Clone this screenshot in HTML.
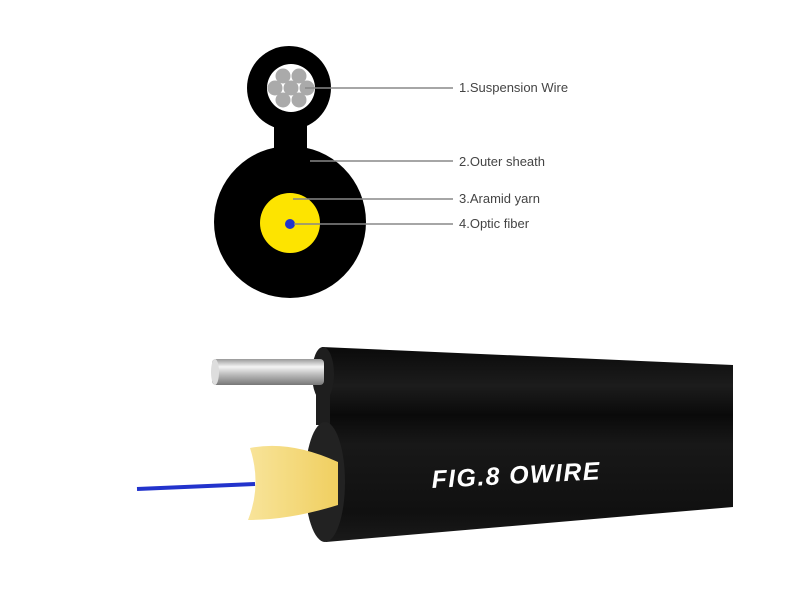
<!DOCTYPE html>
<html><head><meta charset="utf-8"><style>
html,body{margin:0;padding:0;background:#fff;}
svg{display:block;}
</style></head><body>
<svg width="800" height="600" viewBox="0 0 800 600" xmlns="http://www.w3.org/2000/svg">
<defs>
<linearGradient id="cab" x1="0" y1="0" x2="0" y2="1">
<stop offset="0" stop-color="#0a0a0a"/><stop offset="0.2" stop-color="#1c1c1c"/><stop offset="0.35" stop-color="#0a0a0a"/><stop offset="0.5" stop-color="#181818"/><stop offset="0.85" stop-color="#101010"/><stop offset="1" stop-color="#1a1a1a"/>
</linearGradient>
<linearGradient id="wire" x1="0" y1="0" x2="0" y2="1">
<stop offset="0" stop-color="#999"/><stop offset="0.3" stop-color="#f4f4f4"/><stop offset="0.6" stop-color="#bbb"/><stop offset="1" stop-color="#777"/>
</linearGradient>
<linearGradient id="yarn" x1="0" y1="0" x2="1" y2="0">
<stop offset="0" stop-color="#f8e49a"/><stop offset="1" stop-color="#f0cf60"/>
</linearGradient>
</defs>
<!-- cross section -->
<circle cx="289" cy="88" r="42" fill="#000"/>
<rect x="274" y="115" width="33" height="45" fill="#000"/>
<circle cx="290" cy="222" r="76" fill="#000"/>
<circle cx="291" cy="88" r="24" fill="#fff"/>
<g fill="#aaa">
<circle cx="283" cy="76" r="7.5"/><circle cx="299" cy="76" r="7.5"/>
<circle cx="275" cy="88" r="7.5"/><circle cx="291" cy="88" r="7.5"/><circle cx="307" cy="88" r="7.5"/>
<circle cx="283" cy="100" r="7.5"/><circle cx="299" cy="100" r="7.5"/>
</g>
<circle cx="290" cy="223" r="30" fill="#fde400"/>
<circle cx="290" cy="224" r="5" fill="#2233cc"/>
<g stroke="#888" stroke-width="1.5">
<line x1="305" y1="88" x2="453" y2="88"/>
<line x1="310" y1="161" x2="453" y2="161"/>
<line x1="293" y1="199" x2="453" y2="199"/>
<line x1="294" y1="224" x2="453" y2="224"/>
</g>
<g font-family="Liberation Sans, sans-serif" font-size="13" fill="#444">
<text x="459" y="92">1.Suspension Wire</text>
<text x="459" y="166">2.Outer sheath</text>
<text x="459" y="203">3.Aramid yarn</text>
<text x="459" y="228">4.Optic fiber</text>
</g>
<!-- cable -->
<polygon points="322,347 733,365 733,507 326,542 322,420" fill="url(#cab)"/>
<ellipse cx="323" cy="374" rx="11" ry="27" fill="#1e1e1e"/>
<rect x="316" y="395" width="14" height="30" fill="#1e1e1e"/>
<ellipse cx="325" cy="482" rx="20" ry="60" fill="#222"/>
<rect x="212" y="359" width="112" height="26" rx="4" fill="url(#wire)"/>
<ellipse cx="215" cy="372" rx="4" ry="13" fill="#ddd"/>
<path d="M250,448 Q290,440 338,462 L338,505 Q290,520 248,520 Q262,485 250,448Z" fill="url(#yarn)"/>
<line x1="137" y1="489" x2="255" y2="484" stroke="#2233cc" stroke-width="4"/>
<text x="432" y="488" font-family="Liberation Sans, sans-serif" font-style="italic" font-weight="bold" font-size="25" fill="#fff" transform="rotate(-3 432 488)" textLength="168">FIG.8 OWIRE</text>
</svg>
</body></html>
